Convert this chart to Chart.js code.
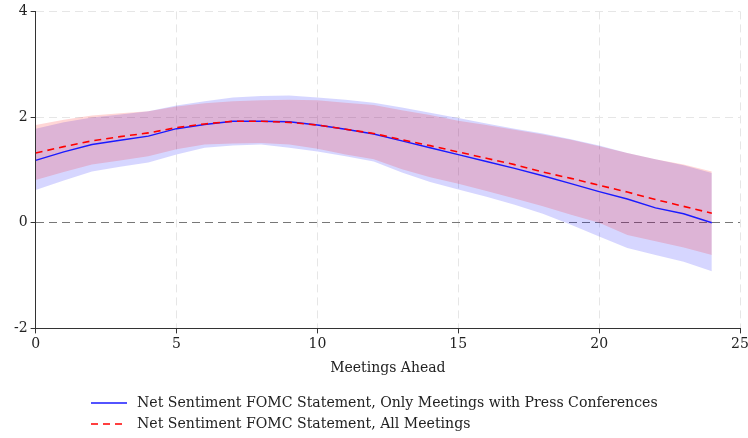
<!DOCTYPE html>
<html>
<head>
<meta charset="utf-8">
<script src="https://cdn.jsdelivr.net/npm/chart.js@4"></script>
<style>
  body { margin: 0; background: #fff; }
</style>
</head>
<body>
<canvas id="myChart" width="748" height="438"></canvas>
<script>
const meetings = [0, 1, 2, 3, 4, 5, 6, 7, 8, 9, 10, 11, 12, 13, 14, 15, 16, 17, 18, 19, 20, 21, 22, 23, 24];

// only meetings with press conferences
const pressLine = [1.18, 1.34, 1.48, 1.56, 1.64, 1.78, 1.86, 1.92, 1.92, 1.91, 1.85, 1.77, 1.68, 1.55, 1.42, 1.29, 1.16, 1.03, 0.89, 0.74, 0.59, 0.45, 0.28, 0.17, 0.0];
const pressUpper = [1.78, 1.9, 1.99, 2.05, 2.11, 2.22, 2.3, 2.37, 2.4, 2.41, 2.37, 2.33, 2.27, 2.18, 2.08, 1.98, 1.88, 1.78, 1.69, 1.58, 1.46, 1.32, 1.2, 1.09, 0.94];
const pressLower = [0.62, 0.8, 0.97, 1.06, 1.14, 1.29, 1.42, 1.46, 1.48, 1.42, 1.35, 1.26, 1.16, 0.95, 0.77, 0.63, 0.49, 0.34, 0.17, -0.04, -0.26, -0.48, -0.61, -0.74, -0.92];

// all meetings
const allLine = [1.32, 1.44, 1.55, 1.63, 1.7, 1.8, 1.87, 1.92, 1.92, 1.9, 1.85, 1.77, 1.69, 1.57, 1.46, 1.34, 1.22, 1.1, 0.96, 0.84, 0.71, 0.58, 0.44, 0.31, 0.18];
const allUpper = [1.85, 1.95, 2.03, 2.07, 2.11, 2.2, 2.26, 2.3, 2.32, 2.33, 2.32, 2.27, 2.23, 2.13, 2.04, 1.93, 1.85, 1.76, 1.67, 1.57, 1.45, 1.32, 1.2, 1.1, 0.97];
const allLower = [0.81, 0.96, 1.1, 1.18, 1.26, 1.39, 1.48, 1.5, 1.51, 1.48, 1.4, 1.29, 1.2, 1.01, 0.86, 0.74, 0.6, 0.46, 0.31, 0.15, 0.0, -0.23, -0.35, -0.47, -0.61];

const xTicks = [0, 5, 10, 15, 20, 25];
const yTicks = [-2, 0, 2, 4];
const legendLabels = [
  "Net Sentiment FOMC Statement, Only Meetings with Press Conferences",
  "Net Sentiment FOMC Statement, All Meetings",
];

const serif = '"DejaVu Serif", "Liberation Serif", serif';

function toPoints(values) {
  return meetings.map((m, i) => ({ x: m, y: values[i] }));
}

function band(values, fillTarget, color, order) {
  return {
    data: toPoints(values),
    fill: fillTarget,
    backgroundColor: color,
    borderColor: "transparent",
    borderWidth: 0,
    pointRadius: 0,
    tension: 0,
    order: order,
  };
}

// legend drawn by hand so both rows start at the same x
const lineLegend = {
  id: "lineLegend",
  afterDraw(chart) {
    let ctx = chart.ctx;
    let lines = [chart.data.datasets[4], chart.data.datasets[5]];
    ctx.save();
    ctx.font = "14.1px " + serif;
    ctx.textBaseline = "middle";
    for (let i = 0; i < lines.length; i++) {
      let y = chart.height - 35 + i * 21;
      ctx.strokeStyle = lines[i].borderColor;
      ctx.lineWidth = lines[i].borderWidth;
      ctx.setLineDash(lines[i].borderDash || []);
      ctx.beginPath();
      ctx.moveTo(91, y);
      ctx.lineTo(127, y);
      ctx.stroke();
      ctx.fillStyle = "#222";
      ctx.fillText(legendLabels[i], 137, y);
    }
    ctx.restore();
  },
};

const ctx = document.getElementById("myChart");

new Chart(ctx, {
  type: "line",
  data: {
    datasets: [
      band(pressUpper, 1, "rgba(0, 0, 255, 0.16)", 4),
      band(pressLower, false, "transparent", 4),
      band(allUpper, 3, "rgba(255, 0, 0, 0.16)", 3),
      band(allLower, false, "transparent", 3),
      {
        data: toPoints(pressLine),
        borderColor: "#1a1aff",
        borderWidth: 1.4,
        pointRadius: 0,
        fill: false,
        order: 2,
      },
      {
        data: toPoints(allLine),
        borderColor: "#ff0000",
        borderWidth: 1.6,
        borderDash: [7, 5],
        pointRadius: 0,
        fill: false,
        order: 1,
      },
    ],
  },
  options: {
    responsive: false,
    animation: false,
    layout: {
      padding: { left: 11, right: 8, top: 5, bottom: 57 },
    },
    scales: {
      x: {
        type: "linear",
        min: 0,
        max: 25,
        afterBuildTicks: (axis) => {
          axis.ticks = xTicks.map((v) => ({ value: v }));
        },
        afterFit: (axis) => {
          axis.paddingRight = 0;
        },
        grid: {
          color: "#e6e6e6",
          tickColor: "#333",
          tickLength: 5,
        },
        border: { display: true, color: "#333", width: 1, dash: [8, 5] },
        ticks: {
          color: "#222",
          padding: 3,
          maxRotation: 0,
          font: { family: serif, size: 14 },
        },
        title: {
          display: true,
          text: "Meetings Ahead",
          color: "#222",
          padding: { top: 4 },
          font: { family: serif, size: 14 },
        },
      },
      y: {
        min: -2,
        max: 4,
        afterBuildTicks: (axis) => {
          axis.ticks = yTicks.map((v) => ({ value: v }));
        },
        grid: {
          color: (c) => (c.tick && c.tick.value === 0 ? "#777" : "#e6e6e6"),
          tickColor: "#333",
          tickLength: 5,
        },
        border: { display: true, color: "#333", width: 1, dash: [8, 5] },
        ticks: {
          color: "#222",
          padding: 3,
          font: { family: serif, size: 14 },
        },
      },
    },
    plugins: {
      legend: { display: false },
      tooltip: { enabled: false },
    },
  },
  plugins: [lineLegend],
});
</script>
</body>
</html>
